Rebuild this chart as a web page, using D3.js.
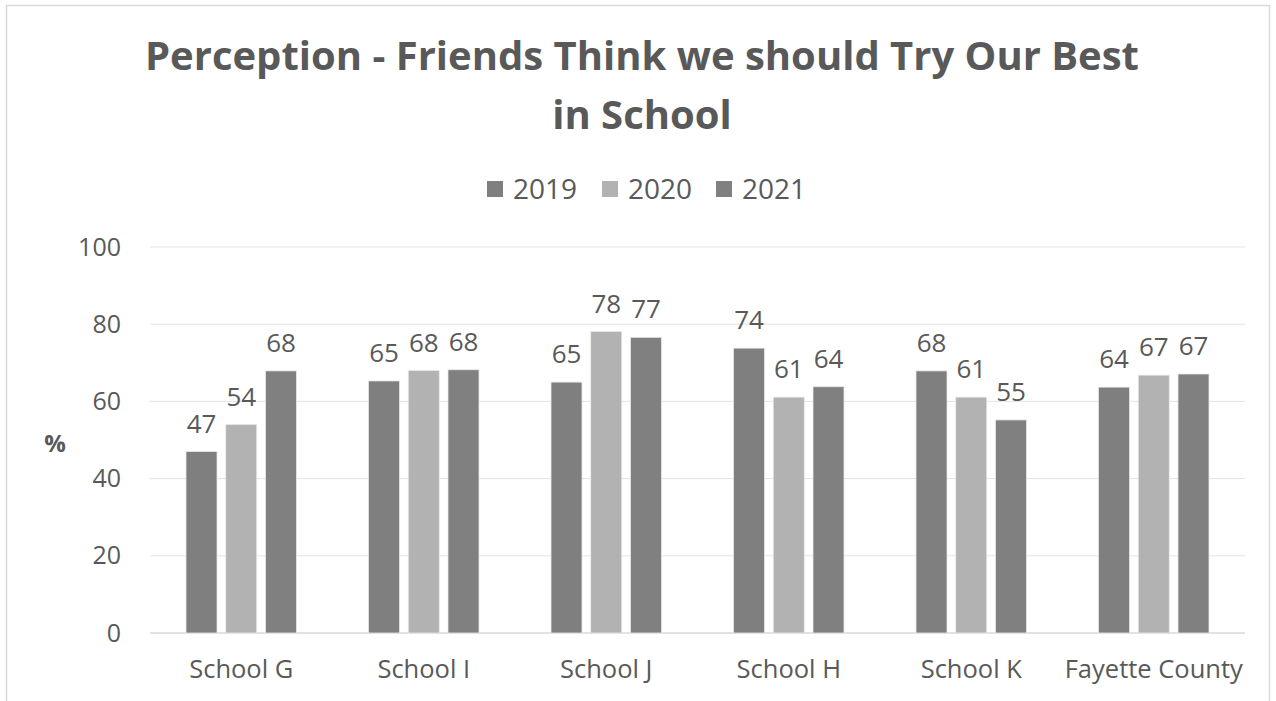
<!DOCTYPE html>
<html><head><meta charset="utf-8">
<script src="https://cdn.jsdelivr.net/npm/d3@7"></script>
<style>body{margin:0;background:#fff;} svg{display:block;} text{font-family:"Open Sans",sans-serif;}</style>
</head><body>
<svg id="c" width="1276" height="701"></svg>
<script>
const categories = ["School G","School I","School J","School H","School K","Fayette County"];
const seriesNames = ["2019","2020","2021"];
const v2019 = [47.0, 65.3, 65.0, 73.8, 67.9, 63.7];
const v2020 = [54.0, 68.0, 78.1, 61.1, 61.1, 66.8];
const v2021 = [67.9, 68.2, 76.6, 63.8, 55.2, 67.1];
const yTicks = [0,20,40,60,80,100];
const colors = ["#7f7f7f","#b2b2b2","#808080"];

const svg = d3.select("#c");
const values = [v2019, v2020, v2021];
const ink = "#595959";

svg.append("rect").attr("x",6.5).attr("y",5.5).attr("width",1263).attr("height",710)
  .attr("fill","#fff").attr("stroke","#d9d9d9").attr("stroke-width",1.5);

const x0 = d3.scaleBand().domain(categories).range([150,1245]).paddingInner(0).paddingOuter(0);
const x1 = d3.scaleBand().domain(seriesNames).range([36, x0.bandwidth()-36]).paddingInner(0.22).paddingOuter(0);
const y = d3.scaleLinear().domain([0,100]).range([633,247]);

// gridlines
svg.append("g").selectAll("line").data(yTicks).join("line")
  .attr("x1",150).attr("x2",1245).attr("y1",d=>y(d)).attr("y2",d=>y(d))
  .attr("stroke",(d)=>d===0?"#d9d9d9":"#e3e3e3").attr("stroke-width",(d)=>d===0?1.5:1);

// y axis labels
const yAxis = d3.axisLeft(y).tickValues(yTicks).tickSize(0).tickPadding(0);
const ya = svg.append("g").attr("transform","translate(121,0)").call(yAxis);
ya.select(".domain").remove();
ya.selectAll("text").attr("fill",ink).style("font-size","25px").style("font-family","'Open Sans',sans-serif");

// x axis labels
const xAxis = d3.axisBottom(x0).tickSize(0).tickPadding(0);
const xa = svg.append("g").attr("transform","translate(0,660)").call(xAxis);
xa.select(".domain").remove();
xa.selectAll("text").attr("fill",ink).style("font-size","25.5px").style("font-family","'Open Sans',sans-serif");

// bars
const groups = svg.append("g").selectAll("g").data(categories).join("g")
  .attr("transform",d=>`translate(${x0(d)},0)`);
groups.each(function(cat, ci){
  const g = d3.select(this);
  seriesNames.forEach((s, si)=>{
    const v = values[si][ci];
    g.append("rect").attr("x",x1(s)).attr("y",y(v)).attr("width",x1.bandwidth()).attr("height",y(0)-y(v))
      .attr("fill",colors[si]).attr("stroke","#e8e8e8").attr("stroke-width",0.8);
    g.append("text").attr("x",x1(s)+x1.bandwidth()/2).attr("y",y(v)-19)
      .attr("text-anchor","middle").attr("fill",ink).style("font-size","26px").text(Math.round(v));
  });
});

// % label
svg.append("text").attr("x",55).attr("y",452).attr("text-anchor","middle").attr("fill",ink)
  .style("font-size","24px").style("font-weight","bold").text("%");

// title
const title = svg.append("text").attr("text-anchor","middle").attr("fill",ink)
  .style("font-size","40px").style("font-weight","bold");
title.append("tspan").attr("x",642).attr("y",70).text("Perception - Friends Think we should Try Our Best");
title.append("tspan").attr("x",642).attr("y",129).text("in School");

// legend
const legX = [487, 602, 716];
const leg = svg.append("g").selectAll("g").data(seriesNames).join("g")
  .attr("transform",(d,i)=>`translate(${legX[i]},181)`);
leg.append("rect").attr("width",16).attr("height",16).attr("fill",(d,i)=>colors[i]);
leg.append("text").attr("x",26).attr("y",18).attr("fill",ink).style("font-size","28px").text(d=>d);
</script>
</body></html>
